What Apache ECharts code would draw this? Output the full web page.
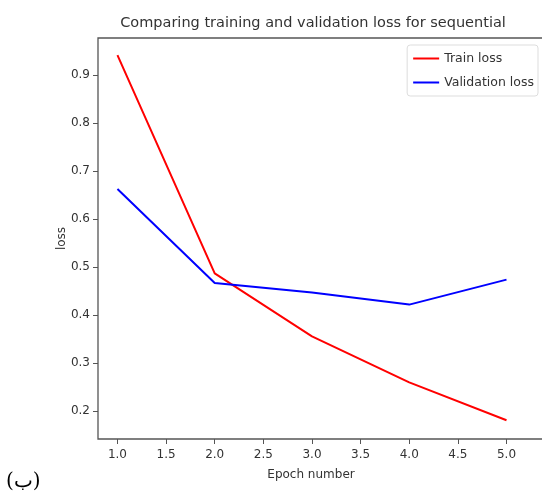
<!DOCTYPE html>
<html><head><meta charset="utf-8">
<script src="https://cdn.jsdelivr.net/npm/echarts@6/dist/echarts.min.js"></script>
<style>html,body{margin:0;padding:0;background:#fff;overflow:hidden}#c{width:560px;height:496px}</style>
</head><body><div id="c"></div>
<script>
const epochs = [1, 2, 3, 4, 5];
const trainLoss = [0.942, 0.487, 0.356, 0.26, 0.181];
const valLoss = [0.663, 0.467, 0.447, 0.422, 0.474];
const xTicks = [1.0, 1.5, 2.0, 2.5, 3.0, 3.5, 4.0, 4.5, 5.0];
const yTicks = [0.2, 0.3, 0.4, 0.5, 0.6, 0.7, 0.8, 0.9];

const FONT = 'DejaVu Sans';
const chart = echarts.init(document.getElementById('c'));
chart.setOption({
  animation: false,
  title: {
    text: 'Comparing training and validation loss for sequential',
    left: 308, top: 11, textAlign: 'center',
    textStyle: {fontFamily: FONT, fontSize: 14.5, fontWeight: 'normal', color: '#333'}
  },
  legend: {
    right: 22, top: 45, orient: 'vertical',
    data: ['Train loss', 'Validation loss'],
    icon: 'rect', itemWidth: 26, itemHeight: 2, itemGap: 11,
    backgroundColor: '#fff', borderColor: '#ddd', borderWidth: 1, borderRadius: 3,
    padding: [7, 4, 7, 6],
    textStyle: {fontFamily: FONT, fontSize: 12.5, color: '#333'}
  },
  grid: {left: 98, top: 38, bottom: 57, right: 0, show: true, borderColor: '#555', borderWidth: 1.3, backgroundColor: 'transparent'},
  xAxis: {
    type: 'value', min: 0.8, max: 5.55,
    name: 'Epoch number', nameLocation: 'middle', nameGap: 30, nameMoveOverlap: false,
    nameTextStyle: {fontFamily: FONT, fontSize: 12, color: '#333', padding: [0, 36, 0, 0]},
    axisLine: {show: false},
    axisTick: {show: true, length: 5, lineStyle: {color: '#555'}, customValues: xTicks},
    axisLabel: {fontFamily: FONT, fontSize: 12, color: '#333', margin: 10, customValues: xTicks,
      formatter: v => v.toFixed(1)},
    splitLine: {show: false}
  },
  yAxis: {
    type: 'value', min: 0.142, max: 0.9775,
    name: 'loss', nameLocation: 'middle', nameGap: 30, nameMoveOverlap: false,
    nameTextStyle: {fontFamily: FONT, fontSize: 12, color: '#333'},
    axisLine: {show: false},
    axisTick: {show: true, length: 5, lineStyle: {color: '#555'}, customValues: yTicks},
    axisLabel: {fontFamily: FONT, fontSize: 12, color: '#333', margin: 8, customValues: yTicks,
      formatter: v => v.toFixed(1)},
    splitLine: {show: false}
  },
  series: [
    {name: 'Train loss', type: 'line', data: epochs.map((e, i) => [e, trainLoss[i]]),
     showSymbol: false, symbol: 'none', color: '#ff0000', lineStyle: {width: 2, color: '#ff0000'}},
    {name: 'Validation loss', type: 'line', data: epochs.map((e, i) => [e, valLoss[i]]),
     showSymbol: false, symbol: 'none', color: '#0000ff', lineStyle: {width: 2, color: '#0000ff'}}
  ],
  graphic: [{
    type: 'text', left: 6, top: 472,
    style: {text: '(ب)', font: '20px "DejaVu Serif"', fill: '#000'}
  }]
});
</script></body></html>
